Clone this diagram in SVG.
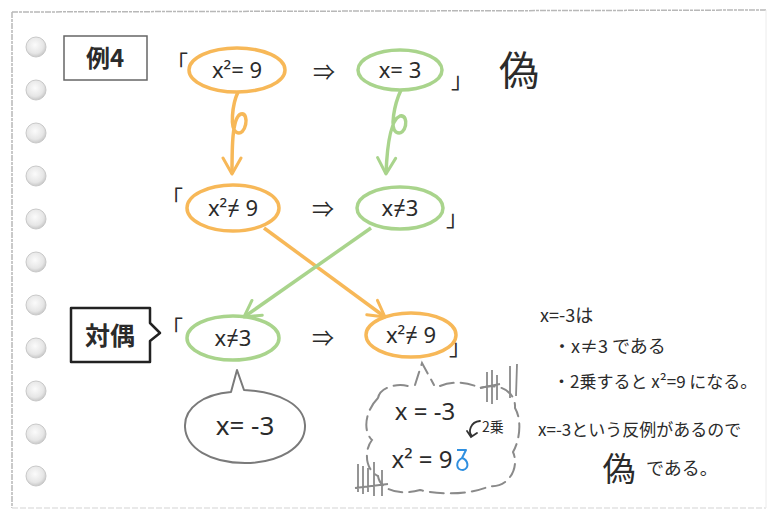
<svg xmlns="http://www.w3.org/2000/svg" width="769" height="513" viewBox="0 0 769 513">
<defs>
<radialGradient id="hole" cx="45%" cy="40%" r="60%">
<stop offset="0" stop-color="#fbfbfb"/>
<stop offset="0.7" stop-color="#e6e6e6"/>
<stop offset="1" stop-color="#c8c8c8"/>
</radialGradient>
<marker id="ao" markerUnits="userSpaceOnUse" markerWidth="24" markerHeight="24" refX="18" refY="10" orient="auto" viewBox="0 0 24 20">
<path d="M2,1 L18,10 L2,19" fill="none" stroke="#f7b858" stroke-width="3" stroke-linecap="round" stroke-linejoin="round"/>
</marker>
<marker id="ag" markerUnits="userSpaceOnUse" markerWidth="24" markerHeight="24" refX="18" refY="10" orient="auto" viewBox="0 0 24 20">
<path d="M2,1 L18,10 L2,19" fill="none" stroke="#a9d48c" stroke-width="3" stroke-linecap="round" stroke-linejoin="round"/>
</marker>
</defs>
<style>
.t{font-family:"Noto Sans","Noto Sans CJK JP",sans-serif;fill:#2b2b2b}
.j{font-family:"Noto Sans CJK JP","Noto Sans",sans-serif;fill:#2b2b2b}
.or{fill:none;stroke:#f7b858;stroke-width:3.5}
.gr{fill:none;stroke:#a9d48c;stroke-width:3.5}
.hole{fill:url(#hole);stroke:#c9c9c9;stroke-width:1}
.gray{fill:none;stroke:#7a7a7a;stroke-width:2}
.dash{fill:none;stroke:#8a8a8a;stroke-width:2;stroke-dasharray:14 7;stroke-linecap:round}
.hatch{fill:none;stroke:#8a8a8a;stroke-width:1.8}
</style>
<rect width="769" height="513" fill="#ffffff"/>
<g id="page">
<path d="M12,12 L766,10" stroke="#b8b8b8" stroke-width="1.5" stroke-dasharray="6 1 3 1"/>
<path d="M12,12 L12,508" stroke="#b8b8b8" stroke-width="1.5" stroke-dasharray="6 1 3 1"/>
<path d="M12,508 L766,508" stroke="#e2e2e2" stroke-width="1.5" stroke-dasharray="6 2"/>
<path d="M766,10 L766,508" stroke="#ececec" stroke-width="1"/>
<circle class="hole" cx="36" cy="47" r="10"/>
<circle class="hole" cx="36" cy="90" r="10"/>
<circle class="hole" cx="36" cy="133" r="10"/>
<circle class="hole" cx="36" cy="176" r="10"/>
<circle class="hole" cx="36" cy="219" r="10"/>
<circle class="hole" cx="36" cy="262" r="10"/>
<circle class="hole" cx="36" cy="305" r="10"/>
<circle class="hole" cx="36" cy="348" r="10"/>
<circle class="hole" cx="36" cy="391" r="10"/>
<circle class="hole" cx="36" cy="434" r="10"/>
<circle class="hole" cx="36" cy="476" r="10"/>
</g>
<g id="label-rei4">
<rect x="64" y="36" width="83" height="44" fill="none" stroke="#666" stroke-width="1.5"/>
<text class="j" x="105" y="67" font-size="24" text-anchor="middle" font-weight="bold">例4</text>
</g>
<g id="row1">
<text class="j" x="166" y="71" font-size="22">「</text>
<g id="n1a">
<ellipse class="or" cx="237" cy="70" rx="48" ry="22"/>
<text class="t" x="237" y="78" font-size="22" text-anchor="middle">x²= 9</text>
</g>
<text class="t" x="324" y="80" font-size="22" text-anchor="middle">⇒</text>
<g id="n1b">
<ellipse class="gr" cx="400" cy="70" rx="42" ry="20"/>
<text class="t" x="400" y="78" font-size="22" text-anchor="middle">x= 3</text>
</g>
<text class="j" x="451" y="88" font-size="22">」</text>
<text class="j" x="519" y="85" font-size="40" text-anchor="middle">偽</text>
</g>
<g id="row2">
<text class="j" x="161" y="206" font-size="22">「</text>
<g id="n2a">
<ellipse class="or" cx="233" cy="208" rx="46" ry="23"/>
<text class="t" x="233" y="216" font-size="22" text-anchor="middle">x²≠ 9</text>
</g>
<text class="t" x="323" y="217" font-size="22" text-anchor="middle">⇒</text>
<g id="n2b">
<ellipse class="gr" cx="400" cy="208" rx="43" ry="21"/>
<text class="t" x="400" y="216" font-size="22" text-anchor="middle">x≠3</text>
</g>
<text class="j" x="446" y="226" font-size="22">」</text>
</g>
<g id="row3">
<g id="label-taigu">
<path d="M71,308 L150,308 L150,323 L160,333 L150,341 L150,362 L71,362 Z" fill="none" stroke="#222" stroke-width="2.5" stroke-linejoin="round"/>
<text class="j" x="110" y="345" font-size="25" text-anchor="middle" font-weight="bold">対偶</text>
</g>
<text class="j" x="161" y="336" font-size="22">「</text>
<g id="n3a">
<ellipse class="gr" cx="233" cy="338" rx="46" ry="22"/>
<text class="t" x="233" y="346" font-size="22" text-anchor="middle">x≠3</text>
</g>
<text class="t" x="323" y="346" font-size="22" text-anchor="middle">⇒</text>
<g id="n3b">
<ellipse class="or" cx="411" cy="335" rx="45" ry="22"/>
<text class="t" x="411" y="343" font-size="22" text-anchor="middle">x²≠ 9</text>
</g>
<text class="j" x="449" y="355" font-size="22">」</text>
</g>
<g id="connectors">
<path class="or" d="M238,92 C232,105 230,128 236,132 C246,138 250,112 241,114 C232,117 232,148 232,174" marker-end="url(#ao)"/>
<path class="gr" d="M401,90 C394,105 390,128 396,132 C406,138 410,114 400,116 C390,120 387,148 386,174" marker-end="url(#ag)"/>
<path class="or" d="M264,228 L385,317" marker-end="url(#ao)" stroke-width="3"/>
<path class="gr" d="M371,228 L244,317" marker-end="url(#ag)" stroke-width="3"/>
</g>
<g id="bubble-counter">
<path class="gray" d="M231,392 L237,370 L244,390 C280,392 304,405 305,425 C306,448 278,463 245,463 C210,463 186,448 185,427 C184,407 205,394 231,392 Z" stroke-linejoin="round"/>
<text class="t" x="245" y="435" font-size="26" text-anchor="middle">x= -3</text>
</g>
<g id="cloud">
<path class="dash" d="M415,385 L422,363 L434,385"/>
<path class="dash" d="M378,398 C380,388 395,383 408,386 M440,386 C455,380 470,383 480,388 C500,382 516,392 515,408 C522,420 520,440 513,452 C520,468 508,488 490,486 C470,495 440,495 420,490 C400,496 380,490 378,476 C365,470 364,450 372,440 C362,430 366,410 378,398"/>
<path class="hatch" d="M487,372 L487,402 M492,370 L492,404 M497,375 L497,400 M510,366 L510,398 M517,364 L516,396 M480,388 L500,384"/>
<path class="hatch" d="M358,464 L358,492 M363,466 L363,494 M368,468 L368,492 M374,462 L374,496 M382,470 L382,496 M355,488 L388,484"/>
<text class="t" x="425" y="420" font-size="24" text-anchor="middle">x = -3</text>
<path d="M480,421 C470,422 468,432 472,436 M467,431 L471,437 L477,433" fill="none" stroke="#333" stroke-width="1.8" stroke-linecap="round"/>
<text class="j" x="482" y="432" font-size="14">2乗</text>
<text class="t" x="422" y="468" font-size="24" text-anchor="middle">x² = 9</text>
<path d="M457,450 L466,450 L462,458 C468,460 470,468 463,470 C456,470 455,462 462,458" fill="none" stroke="#2f8fe0" stroke-width="2" stroke-linejoin="round"/>
</g>
<g id="note">
<text class="j" x="540" y="322" font-size="18">x=-3は</text>
<text class="j" x="553" y="353" font-size="18">・x≠3 である</text>
<text class="j" x="553" y="388" font-size="17">・2乗すると x²=9 になる。</text>
<text class="j" x="538" y="436" font-size="17">x=-3という反例があるので</text>
<text class="j" x="619" y="481" font-size="33" text-anchor="middle">偽</text>
<text class="j" x="646" y="475" font-size="18">である。</text>
</g>
</svg>
